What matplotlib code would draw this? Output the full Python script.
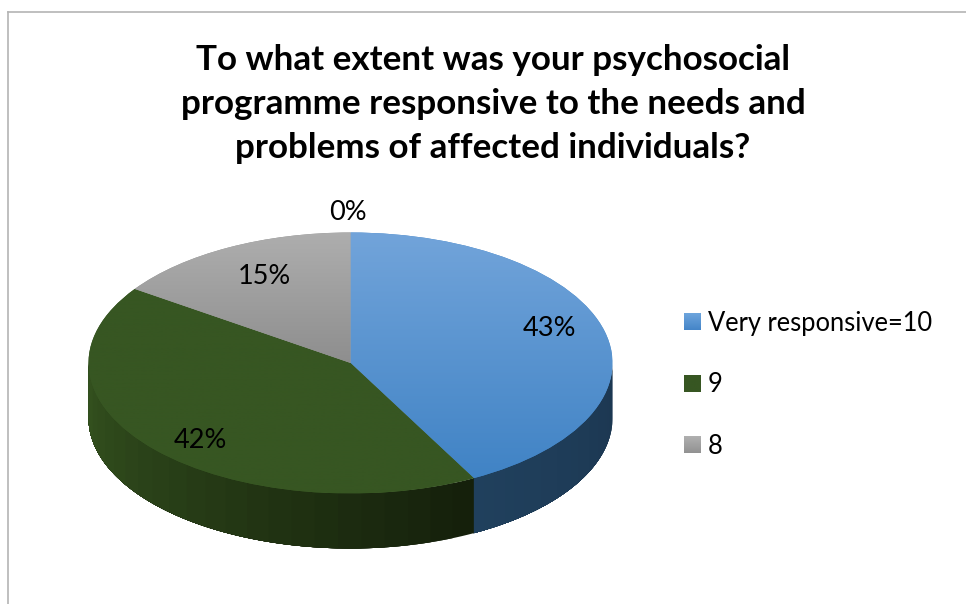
# -*- coding: utf-8 -*-
import numpy as np
import matplotlib
matplotlib.use("Agg")
import matplotlib.pyplot as plt
from matplotlib.lines import Line2D
from matplotlib.colors import LinearSegmentedColormap

plt.rcParams["font.family"] = ["Lato", "DejaVu Sans"]

title = "To what extent was your psychosocial\nprogramme responsive to the needs and\nproblems of affected individuals?"
categories = ["Very responsive=10", "9", "8"]
shares = [42.2, 42.4, 15.4]
pct_labels = ["43%", "42%", "15%", "0%"]

top_colors = [("#72a4da", "#4083c5"), ("#375622", "#375622"), ("#aeaeae", "#8e8e8e")]
side_colors = [("#1c3751", "#20405d"), ("#15200b", "#34521f"), ("#6a6a6a", "#6a6a6a")]
legend_colors = [("#6da5dd", "#4585c8"), ("#375622", "#375622"), ("#b0b0b0", "#929292")]

W, H = 966, 604
cx, cy = 350.5, 363.0   # pie centre in pixels
rx, ry = 262.0, 130.5
depth = 55.0 / ry


def px(x, y):
    return (x - cx) / rx, (cy - y) / ry


fig = plt.figure(figsize=(W / 100, H / 100), dpi=100)
ax = fig.add_axes([0, 0, 1, 1])

wedges, _ = ax.pie(shares, startangle=90, counterclock=False, radius=1,
                   colors=[c[1] for c in top_colors], wedgeprops={"linewidth": 0})
ax.set_aspect("auto")
x0, y1 = px(0, 0)
x1, y0 = px(W, H)
ax.set_xlim(x0, x1)
ax.set_ylim(y0, y1)
ax.axis("off")

# side wall, only the front half of the ring shows
# every strip runs on to the slice end so the next one paints over it, no seams
cum = np.cumsum([0] + shares) / sum(shares) * 360.0
for i in range(len(shares)):
    a0, a1 = max(cum[i], 90.0), min(cum[i + 1], 270.0)
    if a1 <= a0:
        continue
    cmap = LinearSegmentedColormap.from_list("side", side_colors[i])
    angles = np.linspace(a0, a1, 24)
    for j in range(len(angles) - 1):
        t = np.radians(np.linspace(angles[j], a1, 80))
        xs, ys = np.sin(t), np.cos(t)
        ax.fill(np.r_[xs, xs[::-1]], np.r_[ys, ys[::-1] - depth],
                fc=cmap(j / (len(angles) - 2)), lw=0, zorder=1)

# gradient on the top face
for i, w in enumerate(wedges):
    w.set_zorder(2)
    t = np.radians(np.linspace(cum[i], cum[i + 1], 200))
    ys = np.r_[np.cos(t), 0]
    cmap = LinearSegmentedColormap.from_list("top", top_colors[i])
    grad = np.linspace(0, 1, 256).reshape(-1, 1)
    im = ax.imshow(grad, cmap=cmap, aspect="auto", origin="upper", zorder=3,
                   extent=[-1, 1, ys.min(), ys.max()])
    im.set_clip_path(w)
ax.set_xlim(x0, x1)
ax.set_ylim(y0, y1)

label_pos = [(549, 329), (200, 441), (264, 276), (348, 212)]
for lab, p in zip(pct_labels, label_pos):
    ax.text(*px(*p), lab, ha="center", va="center", fontsize=19.5, color="black", zorder=6)

fig.text(493 / W, 1 - 104 / H, title, ha="center", va="center", fontsize=25.2,
         fontweight="bold", color="black", linespacing=1.48)

leg = ax.legend(wedges, categories, loc="upper left", bbox_to_anchor=(684 / W, 1 - 311 / H),
                bbox_transform=fig.transFigure, frameon=False, fontsize=18.4,
                handlelength=0.63, handleheight=0.63, handletextpad=0.31, labelspacing=1.42,
                borderpad=0, borderaxespad=0)

# swatches carry the same gradient
fig.canvas.draw()
inv = ax.transData.inverted()
for patch, cols in zip(leg.get_patches(), legend_colors):
    bb = patch.get_window_extent()
    (a, b), (c, d) = inv.transform([[bb.x0, bb.y0], [bb.x1, bb.y1]])
    cmap = LinearSegmentedColormap.from_list("leg", cols)
    ax.imshow(np.linspace(0, 1, 32).reshape(-1, 1), cmap=cmap, aspect="auto",
              origin="upper", extent=[a, c, b, d], zorder=7)
ax.set_xlim(x0, x1)
ax.set_ylim(y0, y1)

# chart area border, cropped on the right and bottom
fig.add_artist(Line2D([7.5 / W, 1], [1 - 11.5 / H, 1 - 11.5 / H], color="#b4b4b4", lw=1.2))
fig.add_artist(Line2D([7.5 / W, 7.5 / W], [0, 1 - 11.5 / H], color="#b4b4b4", lw=1.2))

fig.savefig("out.png", dpi=100)
